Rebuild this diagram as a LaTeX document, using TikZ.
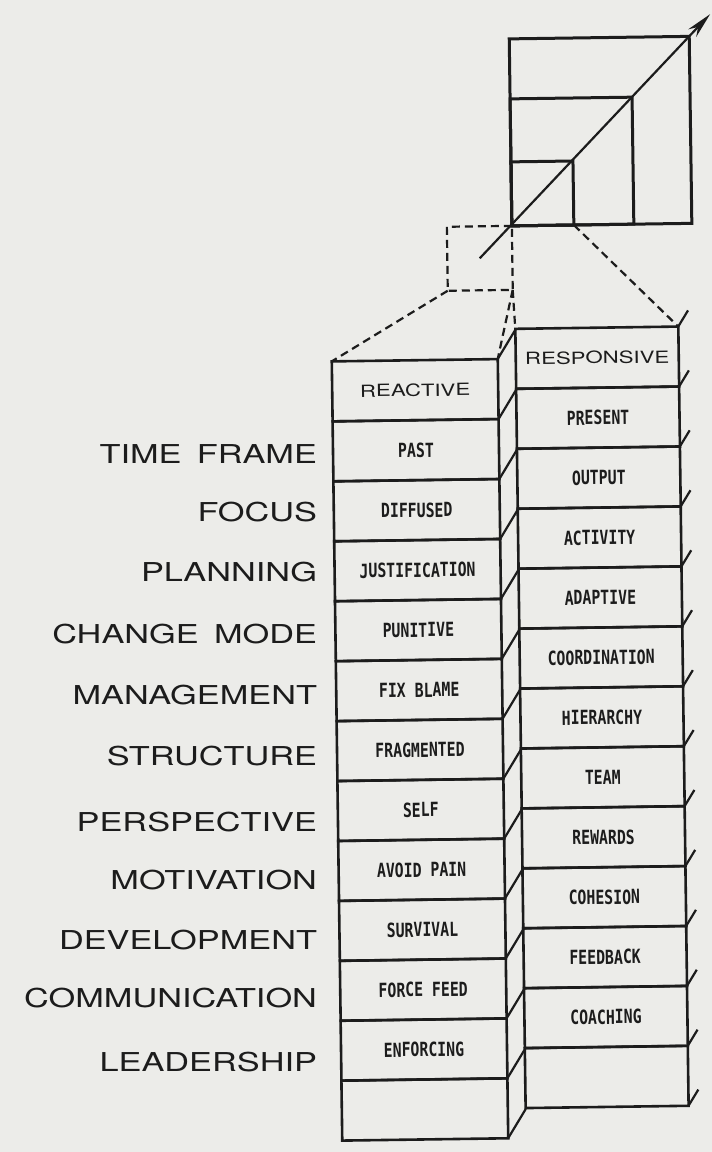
\documentclass[tikz,border=0pt]{standalone}
\usepackage{fontspec}
\usetikzlibrary{positioning,arrows.meta,calc}

\newfontfamily\lblfont[FakeStretch=1.32,WordSpace=1.6]{TeX Gyre Heros}
\newfontfamily\cellfont[FakeStretch=0.76]{DejaVu Sans Mono}
\definecolor{paper}{RGB}{236,236,233}
\definecolor{ink}{RGB}{28,28,28}

\begin{document}
\begin{tikzpicture}[x=1pt,y=-1pt,color=ink,line width=2.6pt,
    every node/.style={inner sep=1,outer sep=0},
    lbl/.style={anchor=east,font=\lblfont\fontsize{26}{28}\selectfont},
    cell/.style={draw,minimum height=60pt,font=\cellfont\bfseries\fontsize{19.5}{21}\selectfont},
    lcell/.style={cell,minimum width=166pt},
    rcell/.style={cell,minimum width=163pt},
    head/.style={font=\lblfont\fontsize{16.8}{18}\selectfont},
    sq/.style={draw,anchor=south west,line width=3pt},
    edge3d/.style={line width=2.2pt},
    proj/.style={line width=2.2pt,dash pattern=on 8pt off 5pt}]
	\fill[paper] (0,0) rectangle (712,1152);

	% row labels
	\node (t1) [lbl] at (318,454) {TIME FRAME};
	\node (t2) [lbl] at (318,512) {FOCUS};
	\node (t3) [lbl] at (318,572) {PLANNING};
	\node (t4) [lbl] at (318,634) {CHANGE MODE};
	\node (t5) [lbl] at (318,695) {MANAGEMENT};
	\node (t6) [lbl] at (318,756) {STRUCTURE};
	\node (t7) [lbl] at (318,822) {PERSPECTIVE};
	\node (t8) [lbl] at (318,880) {MOTIVATION};
	\node (t9) [lbl] at (318,940) {DEVELOPMENT};
	\node (t10) [lbl] at (318,998) {COMMUNICATION};
	\node (t11) [lbl] at (318,1062) {LEADERSHIP};

\begin{scope}[rotate around={0.8:(505,735)},transform shape]
	% growing squares
	\coordinate (o) at (519,226);
	\node (sq3) [sq,minimum width=180pt,minimum height=187pt] at (o) {};
	\node (sq2) [sq,minimum width=122pt,minimum height=127pt] at (o) {};
	\node (sq1) [sq,minimum width=62pt,minimum height=64pt] at (o) {};
	\node (sq0) [sq,proj,anchor=north east,minimum width=65pt,minimum height=64pt] at (o) {};
	\draw[line width=2.2pt,-{Stealth[length=26pt,width=11pt]}]
		(sq0.center) -- ($(sq0.center)!1.1!(sq3.north east)$);

	% reactive stack
	\node (l1) [lcell,head] at (420,389) {REACTIVE};
	\node (l2) [lcell,below=0pt of l1] {PAST};
	\node (l3) [lcell,below=0pt of l2] {DIFFUSED};
	\node (l4) [lcell,below=0pt of l3] {JUSTIFICATION};
	\node (l5) [lcell,below=0pt of l4] {PUNITIVE};
	\node (l6) [lcell,below=0pt of l5] {FIX BLAME};
	\node (l7) [lcell,below=0pt of l6] {FRAGMENTED};
	\node (l8) [lcell,below=0pt of l7] {SELF};
	\node (l9) [lcell,below=0pt of l8] {AVOID PAIN};
	\node (l10) [lcell,below=0pt of l9] {SURVIVAL};
	\node (l11) [lcell,below=0pt of l10] {FORCE FEED};
	\node (l12) [lcell,below=0pt of l11] {ENFORCING};
	\node (l13) [lcell,below=0pt of l12] {};

	% responsive stack
	\node (r1) [rcell,head] at (602.5,359) {RESPONSIVE};
	\node (r2) [rcell,below=0pt of r1] {PRESENT};
	\node (r3) [rcell,below=0pt of r2] {OUTPUT};
	\node (r4) [rcell,below=0pt of r3] {ACTIVITY};
	\node (r5) [rcell,below=0pt of r4] {ADAPTIVE};
	\node (r6) [rcell,below=0pt of r5] {COORDINATION};
	\node (r7) [rcell,below=0pt of r6] {HIERARCHY};
	\node (r8) [rcell,below=0pt of r7] {TEAM};
	\node (r9) [rcell,below=0pt of r8] {REWARDS};
	\node (r10) [rcell,below=0pt of r9] {COHESION};
	\node (r11) [rcell,below=0pt of r10] {FEEDBACK};
	\node (r12) [rcell,below=0pt of r11] {COACHING};
	\node (r13) [rcell,below=0pt of r12] {};

	% projection from the small square
	\draw[proj]
		(sq0.south west) -- (l1.north west)
		(sq0.south east) -- (l1.north east)
		(sq0.south east) -- (r1.north west)
		(sq1.south east) -- (r1.north east);

	% side faces
	\draw[edge3d]
		(l1.north east) -- ++(18,-29)  (l1.south east) -- ++(18,-29)
		(l2.south east) -- ++(18,-29)  (l3.south east) -- ++(18,-29)
		(l4.south east) -- ++(18,-29)  (l5.south east) -- ++(18,-29)
		(l6.south east) -- ++(18,-29)  (l7.south east) -- ++(18,-29)
		(l8.south east) -- ++(18,-29)  (l9.south east) -- ++(18,-29)
		(l10.south east) -- ++(18,-29) (l11.south east) -- ++(18,-29)
		(l12.south east) -- ++(18,-29) (l13.south east) -- ++(18,-29);
	\draw[edge3d]
		(r1.north east) -- ++(10,-16)  (r1.south east) -- ++(10,-16)
		(r2.south east) -- ++(10,-16)  (r3.south east) -- ++(10,-16)
		(r4.south east) -- ++(10,-16)  (r5.south east) -- ++(10,-16)
		(r6.south east) -- ++(10,-16)  (r7.south east) -- ++(10,-16)
		(r8.south east) -- ++(10,-16)  (r9.south east) -- ++(10,-16)
		(r10.south east) -- ++(10,-16) (r11.south east) -- ++(10,-16)
		(r12.south east) -- ++(10,-16) (r13.south east) -- ++(10,-16);
\end{scope}
\end{tikzpicture}
\end{document}
